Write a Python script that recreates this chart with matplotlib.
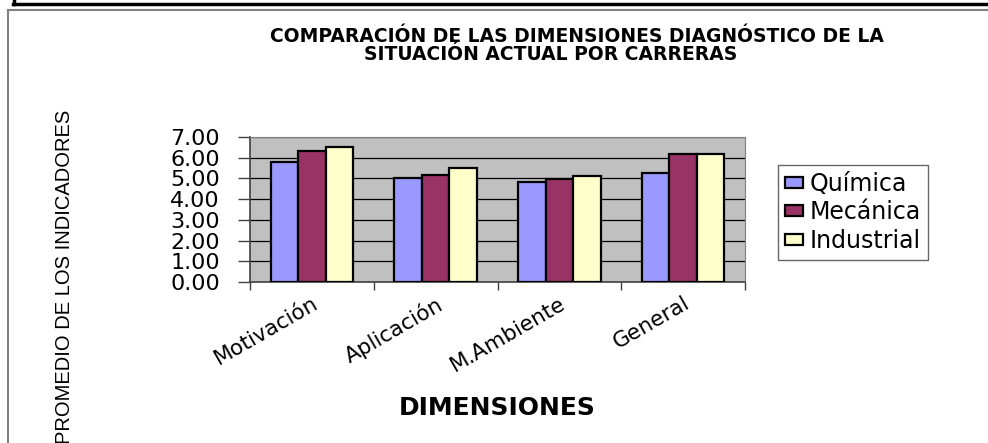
import numpy as np
import matplotlib
matplotlib.use("Agg")
import matplotlib.pyplot as plt
from matplotlib.lines import Line2D

plt.rcParams['font.family'] = ['DejaVu Sans']

dimensiones = ['Motivación', 'Aplicación', 'M.Ambiente', 'General']
carreras = ['Química', 'Mecánica', 'Industrial']
quimica = [5.78, 5.04, 4.82, 5.25]
mecanica = [6.34, 5.17, 4.96, 6.17]
industrial = [6.54, 5.49, 5.12, 6.20]
colores = ['#9999FF', '#993366', '#FFFFCC']

fig = plt.figure(figsize=(9.88, 4.43), dpi=100)
W, H = 988, 443

# marco del grafico
fig.add_artist(Line2D([13 / W, 1], [1 - 4 / H, 1 - 4 / H], color='black', lw=2.5))
fig.add_artist(Line2D([14 / W, 14 / W], [1, 1 - 4 / H], color='black', lw=2.5))
fig.add_artist(Line2D([8 / W, 1], [1 - 10 / H, 1 - 10 / H], color='#808080', lw=1.5))
fig.add_artist(Line2D([8 / W, 8 / W], [0, 1 - 10 / H], color='#808080', lw=1.5))

ax = fig.add_axes([250 / W, 1 - 282 / H, 495 / W, 145 / H])
ax.set_facecolor('#C0C0C0')

x = np.arange(len(dimensiones))
ancho = 1 / 4.5
for i, (serie, color) in enumerate(zip([quimica, mecanica, industrial], colores)):
    ax.bar(x + (i - 1) * ancho, serie, ancho, color=color, edgecolor='black',
           linewidth=1.6, label=carreras[i], zorder=3)

ax.set_xlim(-0.5, 3.5)
ax.set_ylim(0, 7)
ax.set_yticks(np.arange(0, 8, 1))
ax.set_yticklabels(['%.2f' % v for v in np.arange(0, 8, 1)], fontsize=16)
ax.yaxis.grid(True, color='black', lw=0.9, zorder=1)
ax.tick_params(axis='y', length=8.6, width=1, color='#404040', pad=13)

ax.set_xticks(x)
ax.set_xticklabels(dimensiones, fontsize=15.5, rotation=30, ha='right',
                   rotation_mode='anchor')
ax.set_xticks(np.arange(-0.5, 4, 1), minor=True)
ax.tick_params(axis='x', which='major', length=0, pad=8)
ax.tick_params(axis='x', which='minor', length=6, width=1, color='#404040')

for lado in ['top', 'right']:
    ax.spines[lado].set_color('#808080')
for lado in ['left', 'bottom']:
    ax.spines[lado].set_color('#404040')
    ax.spines[lado].set_linewidth(1.2)

fig.text(577 / W, 1 - 36 / H, 'COMPARACIÓN DE LAS DIMENSIONES DIAGNÓSTICO DE LA',
         ha='center', va='center', fontsize=13.5, fontweight='bold')
fig.text(551 / W, 1 - 54 / H, 'SITUACIÓN ACTUAL POR CARRERAS',
         ha='center', va='center', fontsize=13.5, fontweight='bold')

fig.text(497 / W, 1 - 408 / H, 'DIMENSIONES', ha='center', va='center',
         fontsize=18, fontweight='bold')
fig.text(65 / W, 1 - 277 / H, 'PROMEDIO DE LOS INDICADORES', rotation=90,
         ha='center', va='center', fontsize=14.5, family=['Liberation Sans'])

leg = fig.legend(loc='upper left', bbox_to_anchor=(778 / W, 1 - 165 / H),
                 fontsize=17, frameon=True, fancybox=False, edgecolor='#404040',
                 handlelength=0.75, handleheight=0.35, handletextpad=0.3,
                 labelspacing=0.18, borderpad=0.3, borderaxespad=0)
leg.get_frame().set_linewidth(1.0)
for h in leg.legend_handles:
    h.set_linewidth(1.6)

fig.savefig('out.png', dpi=100)
